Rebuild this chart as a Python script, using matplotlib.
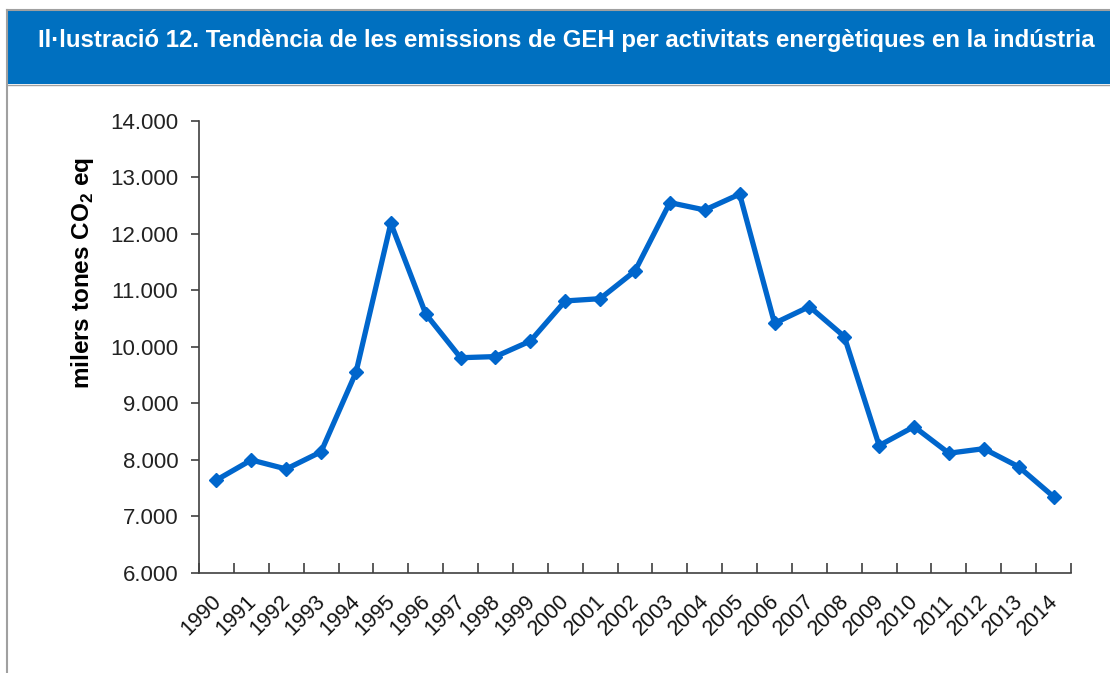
"""Tendència de les emissions de GEH per activitats energètiques en la indústria."""
import matplotlib
matplotlib.use("Agg")
import matplotlib.pyplot as plt
import matplotlib.transforms as mtrans
from matplotlib.patches import Rectangle
from matplotlib.lines import Line2D
from matplotlib.ticker import FuncFormatter

plt.rcParams["font.family"] = ["Liberation Sans", "DejaVu Sans"]
plt.rcParams["mathtext.fontset"] = "custom"
plt.rcParams["mathtext.rm"] = "Liberation Sans"
plt.rcParams["mathtext.bf"] = "Liberation Sans:bold"

years = [str(y) for y in range(1990, 2015)]
emissions = [7640, 7995, 7835, 8140, 9545, 12185, 10580, 9805, 9825, 10100,
             10810, 10850, 11340, 12550, 12420, 12700, 10415, 10710, 10180,
             8250, 8585, 8115, 8195, 7875, 7345]

title = "Il·lustració 12. Tendència de les emissions de GEH per activitats energètiques en la indústria"
ylabel = r"milers tones CO$_\mathbf{2}$ eq"
blue_head = "#0070C0"
blue_line = "#0066CC"

W, H = 1110, 673
fig = plt.figure(figsize=(W / 100, H / 100), dpi=100)

# header band + frame
fig.patches.append(Rectangle((7 / W, 1 - 84 / H), 1 - 7 / W, 74 / H, transform=fig.transFigure,
                             facecolor=blue_head, edgecolor="none"))
fig.lines.append(Line2D([7 / W, 7 / W], [0, 1 - 10 / H], transform=fig.transFigure, color="#a0a0a0", lw=1.5))
fig.lines.append(Line2D([7 / W, 1], [1 - 10 / H, 1 - 10 / H], transform=fig.transFigure, color="#a0a0a0", lw=1.5))
fig.lines.append(Line2D([7 / W, 1], [1 - 85 / H, 1 - 85 / H], transform=fig.transFigure, color="#a0a0a0", lw=1.0))
fig.text(566 / W, 1 - 40 / H, title, color="white", fontsize=17.3, fontweight="bold",
         ha="center", va="center")

ax = fig.add_axes([199 / W, 1 - 572.7 / H, (1071 - 199) / W, (572.7 - 120.7) / H])
x = list(range(len(years)))
ax.plot(x, emissions, color=blue_line, lw=3.8, marker="D", markersize=7, zorder=3, clip_on=False)

ax.set_ylim(6000, 14000)
ax.set_yticks(range(6000, 14001, 1000))
ax.yaxis.set_major_formatter(FuncFormatter(lambda v, p: f"{int(v):,}".replace(",", ".")))
ax.set_xlim(-0.5, len(years) - 0.5)
ax.set_xticks(x)
ax.set_xticklabels(years, rotation=45, ha="right", rotation_mode="anchor")
ax.set_xticks([i - 0.5 for i in range(len(years) + 1)], minor=True)

for s in ["top", "right"]:
    ax.spines[s].set_visible(False)
for s in ["left", "bottom"]:
    ax.spines[s].set_color("#404040")
    ax.spines[s].set_linewidth(1.2)

ax.tick_params(axis="y", direction="out", length=6, width=1.2, color="#404040", labelsize=16, pad=9,
               labelcolor="#222222")
ax.tick_params(axis="x", which="major", length=0, labelsize=15.5, pad=13, labelcolor="#111111")
ax.tick_params(axis="x", which="minor", direction="in", length=7, width=1.2, color="#404040")
ax.set_ylabel(ylabel, fontsize=17.5, fontweight="bold", va="center")
ax.yaxis.set_label_coords((83 - 199) / 872, (572.7 - 273) / 452)

# nudge rotated year labels left (after tick_params, which resets transforms)
shift = mtrans.ScaledTranslation(-6 / 100, 0, fig.dpi_scale_trans)
for lab in ax.get_xticklabels():
    lab.set_transform(lab.get_transform() + shift)

fig.savefig("out.png", dpi=100)
